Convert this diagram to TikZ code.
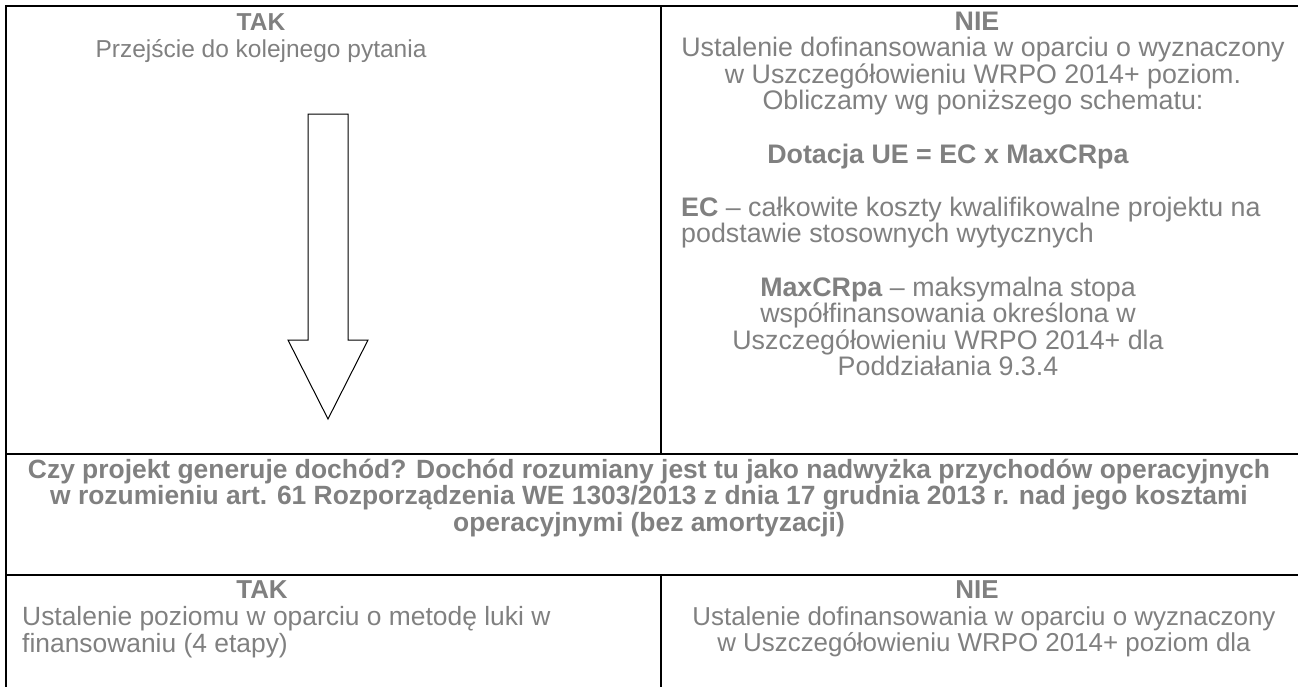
\documentclass[tikz,border=0pt]{standalone}
\usepackage{fontspec}
\setmainfont{Liberation Sans}
\usetikzlibrary{positioning}
\definecolor{txtgray}{RGB}{128,128,128}

\begin{document}
\begin{tikzpicture}[x=1pt,y=-1pt,
    every node/.style={inner sep=0pt,text=txtgray,
      font=\fontsize{24.5}{26.5}\selectfont}]
  \tikzstyle{txtC}=[anchor=base]
  \tikzstyle{txtL}=[anchor=base west]
  \tikzstyle{rightcol}=[font=\fontsize{26.8}{26.5}\selectfont]
  \tikzstyle{lowrow}=[font=\fontsize{25.9}{26.5}\selectfont]
  \tikzstyle{rule}=[line width=1.8pt,black]
  \tikzstyle{bigarrow}=[line width=1pt,black,line join=miter]

  \useasboundingbox (0,0) rectangle (1298,686);

  % table rules
  \draw[rule] (1310,6) -- (6,6) -- (6,700);
  \draw[rule] (6,454) -- (1310,454);
  \draw[rule] (6,575) -- (1310,575);
  \draw[rule] (661,6) -- (661,454);
  \draw[rule] (661,575) -- (661,700);

  % upper row, left
  \node[txtC] (tak_1) at (261,30) {\textbf{TAK}};
  \node[txtC] (tak_1b) at (261,57) {Przejście do kolejnego pytania};

  % upper row, right
  \node[txtC,rightcol] (nie_1) at (977,30) {\textbf{NIE}};
  \foreach \txt [count=\i] in {Ustalenie dofinansowania w oparciu o wyznaczony,
      w Uszczegółowieniu WRPO 2014+ poziom.,
      Obliczamy wg poniższego schematu:}
    \node[txtC,rightcol] (nie_1-\i) at (983,30+26.6*\i) {\txt};
  \node[txtC,rightcol] (wzor) at (948,163) {\textbf{Dotacja UE = EC x MaxCRpa}};
  \node[txtL,rightcol] (ec_1) at (681,216) {\textbf{EC} – całkowite koszty kwalifikowalne projektu na};
  \node[txtL,rightcol] (ec_2) at (681,242) {podstawie stosownych wytycznych};
  \foreach \txt [count=\i from 0] in {\textbf{MaxCRpa} – maksymalna stopa,
      współfinansowania określona w,
      Uszczegółowieniu WRPO 2014+ dla,
      Poddziałania 9.3.4}
    \node[txtC,rightcol] (maxcr-\i) at (948,296+26.5*\i) {\txt};

  % arrow down
  \draw[bigarrow] (308,114) -- (348,114) -- (348,340) -- (368,340) -- (328,419)
    -- (288,340) -- (308,340) -- cycle;

  % question
  \foreach \txt [count=\i from 0] in {Czy projekt generuje dochód? Dochód rozumiany jest tu jako nadwyżka przychodów operacyjnych,
      w rozumieniu art. 61 Rozporządzenia WE 1303/2013 z dnia 17 grudnia 2013 r. nad jego kosztami,
      operacyjnymi (bez amortyzacji)}
    \node[txtC,font=\fontsize{26.4}{26.5}\selectfont\bfseries] (pytanie-\i) at (649,478+26.5*\i) {\txt};

  % lower row
  \node[txtC,lowrow] (tak_2) at (262,598) {\textbf{TAK}};
  \node[txtL,font=\fontsize{26.4}{26.5}\selectfont] (luka_1) at (22,625) {Ustalenie poziomu w oparciu o metodę luki w};
  \node[txtL,font=\fontsize{26.4}{26.5}\selectfont] (luka_2) at (22,652) {finansowaniu (4 etapy)};
  \node[txtC,lowrow] (nie_2) at (977,598) {\textbf{NIE}};
  \node[txtC,lowrow] (nie_2-1) at (984,625) {Ustalenie dofinansowania w oparciu o wyznaczony};
  \node[txtC,lowrow] (nie_2-2) at (984,651) {w Uszczegółowieniu WRPO 2014+ poziom dla};
\end{tikzpicture}
\end{document}
